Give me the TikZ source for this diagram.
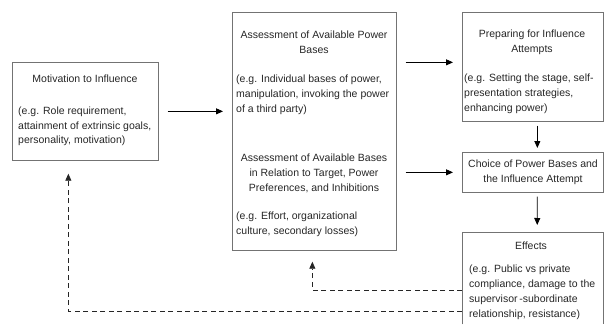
\documentclass[tikz,border=0pt]{standalone}
\usepackage{fontspec}
\setmainfont{Liberation Sans}
\usetikzlibrary{arrows.meta}
\begin{document}
\begin{tikzpicture}[x=1pt,y=-1pt,
  boxnode/.style={draw=black!55, line width=0.7pt, rectangle, inner sep=0pt, anchor=north west},
  ttl/.style={font=\fontsize{10.5}{15}\selectfont, text=black!85, align=center, inner sep=0pt, anchor=base},
  bdy/.style={font=\fontsize{10.5}{15}\selectfont, text=black!85, align=left, inner sep=0pt, anchor=base west},
  arr/.style={draw=black, line width=0.8pt, -{Triangle[length=7pt,width=6pt]}},
  darr/.style={draw=black!85, line width=0.8pt, dash pattern=on 5pt off 3.5pt, -{Triangle[length=7pt,width=6pt]}}]
\useasboundingbox (0,0) rectangle (605,324);

% boxes
\node[boxnode, minimum width=146pt, minimum height=98pt] (mot) at (12,62) {};
\node[boxnode, minimum width=164pt, minimum height=238pt] (ass) at (232,12) {};
\node[boxnode, minimum width=141pt, minimum height=109pt] (prep) at (462,12) {};
\node[boxnode, minimum width=141pt, minimum height=40pt] (choice) at (462,152) {};
\node[inner sep=0pt, anchor=north west, minimum width=141pt, minimum height=92pt] (eff) at (462,232) {};
\draw[draw=black!55, line width=0.7pt] (eff.south west) -- (eff.north west) -- (eff.north east) -- (eff.south east);

% texts (base anchor = baseline of last line)
\node[ttl] (motT) at (85,82.5) {Motivation to Influence};
\node[bdy, font=\fontsize{10.5}{14.5}\selectfont] (motB) at (18,143.5) {(e.g. Role requirement,\\attainment of extrinsic goals,\\personality, motivation)};

\node[ttl] (assT1) at (314,53.5) {Assessment of Available Power\\Bases};
\node[bdy] (assB1) at (236,112.5) {(e.g. Individual bases of power,\\manipulation, invoking the power\\of a third party)};
\node[ttl] (assT2) at (314,191.5) {Assessment of Available Bases\\in Relation to Target, Power\\Preferences, and Inhibitions};
\node[bdy] (assB2) at (236,234.5) {(e.g. Effort, organizational\\culture, secondary losses)};

\node[ttl] (prepT) at (532,52.5) {Preparing for Influence\\Attempts};
\node[bdy] (prepB) at (464,111) {(e.g. Setting the stage, self-\\presentation strategies,\\enhancing power)};

\node[ttl] (choiceT) at (533,182.5) {Choice of Power Bases and\\the Influence Attempt};

\node[ttl] (effT) at (531,249.5) {Effects};
\node[bdy] (effB) at (469,317.5) {(e.g. Public vs private\\compliance, damage to the\\supervisor\,-subordinate\\relationship, resistance)};

% solid arrows
\draw[arr, shorten <=9pt, shorten >=9pt] (mot.east) -- (mot.east -| ass.west);
\draw[arr, shorten <=9pt, shorten >=9pt] ([yshift=4.5pt]ass.east |- prep.west) -- ([yshift=4.5pt]prep.west);
\draw[arr, shorten <=9pt, shorten >=9pt] (ass.east |- choice.west) -- (choice.west);
\draw[arr, shorten <=4pt, shorten >=4pt] ([xshift=4.5pt]prep.south) -- ([xshift=4.5pt]choice.north);
\draw[arr, shorten <=4pt, shorten >=7pt] ([xshift=4.5pt]choice.south) -- ([xshift=4.5pt]eff.north);

% dashed feedback
\coordinate (fb1) at (462,290);
\coordinate (fb2) at (462,311);
\draw[darr] (fb1) -| ([xshift=-2pt,yshift=-11pt]ass.south);
\draw[darr] (fb2) -| ([xshift=-17pt,yshift=-13pt]mot.south);
\end{tikzpicture}
\end{document}
